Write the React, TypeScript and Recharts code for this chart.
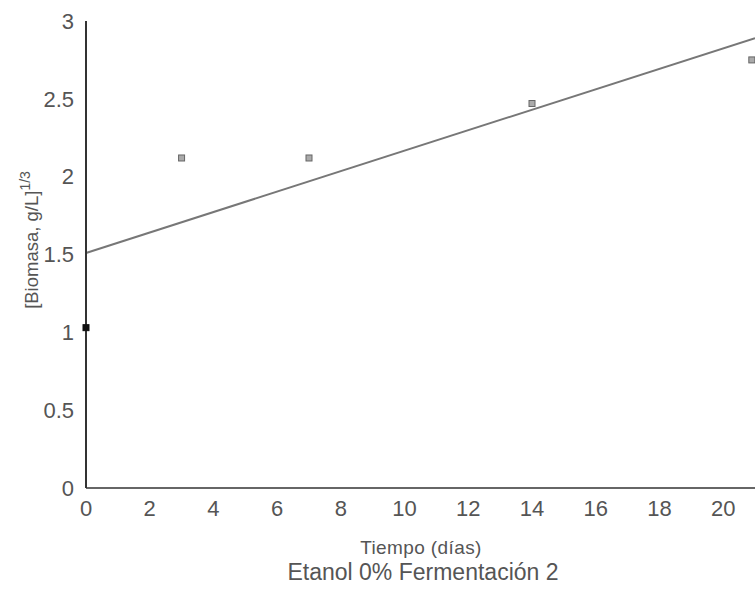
import { ComposedChart, Scatter, Line, XAxis, YAxis } from 'recharts';

// measured points: días vs [biomasa]^(1/3)
const dias = [0, 3, 7, 14, 20.9];
const biomasa = [1.03, 2.12, 2.12, 2.47, 2.75];

// fitted straight line end points
const ajusteX = [0, 21];
const ajusteY = [1.51, 2.89];

const xTicks = [0, 2, 4, 6, 8, 10, 12, 14, 16, 18, 20];
const yTicks = [0, 0.5, 1, 1.5, 2, 2.5, 3];

const puntos = dias.map((d, i) => ({ x: d, y: biomasa[i] }));
const ajuste = ajusteX.map((d, i) => ({ x: d, y: ajusteY[i] }));

const FONT = 'Helvetica, Arial, "Liberation Sans", sans-serif';

function Marker(props: any) {
  const { cx, cy, payload } = props;
  const first = payload && payload.x === 0;
  return (
    <rect
      x={cx - 3}
      y={cy - 3}
      width={6}
      height={6}
      fill={first ? '#111' : '#aaa'}
      stroke={first ? '#111' : '#666'}
      strokeWidth={1}
    />
  );
}

function XLabel() {
  return (
    <g fontFamily={FONT} fill="#555">
      <text x={421} y={554} textAnchor="middle" fontSize={19} letterSpacing={0.4}>
        Tiempo (días)
      </text>
      <text x={423} y={580} textAnchor="middle" fontSize={23}>
        Etanol 0% Fermentación 2
      </text>
    </g>
  );
}

function YLabel() {
  return (
    <text
      transform="translate(38 240) rotate(-90)"
      textAnchor="middle"
      fontFamily={FONT}
      fontSize={18.5}
      fill="#555"
    >
      [Biomasa, g/L]
      <tspan dy={-8} fontSize={14}>1/3</tspan>
    </text>
  );
}

export default function App() {
  return (
    <div style={{ position: 'absolute', left: 0, top: 0, width: 755, height: 591, background: '#fff' }}>
      <ComposedChart
        width={755}
        height={591}
        margin={{ top: 21, right: 0, bottom: 73, left: 0 }}
      >
        <XAxis
          dataKey="x"
          type="number"
          domain={[0, 21]}
          ticks={xTicks}
          height={30}
          tickLine={false}
          tickMargin={6}
          axisLine={{ stroke: '#666', strokeWidth: 2 }}
          tick={{ fill: '#555', fontSize: 22, fontFamily: FONT }}
          label={<XLabel />}
        />
        <YAxis
          dataKey="y"
          type="number"
          domain={[0, 3]}
          ticks={yTicks}
          width={86}
          tickLine={false}
          tickMargin={6}
          axisLine={{ stroke: '#333', strokeWidth: 2 }}
          tick={{ fill: '#555', fontSize: 22, fontFamily: FONT }}
          label={<YLabel />}
        />
        <Line
          data={ajuste}
          dataKey="y"
          type="linear"
          stroke="#777"
          strokeWidth={2}
          dot={false}
          activeDot={false}
          isAnimationActive={false}
        />
        <Scatter
          data={puntos}
          dataKey="y"
          shape={<Marker />}
          isAnimationActive={false}
        />
      </ComposedChart>
    </div>
  );
}
